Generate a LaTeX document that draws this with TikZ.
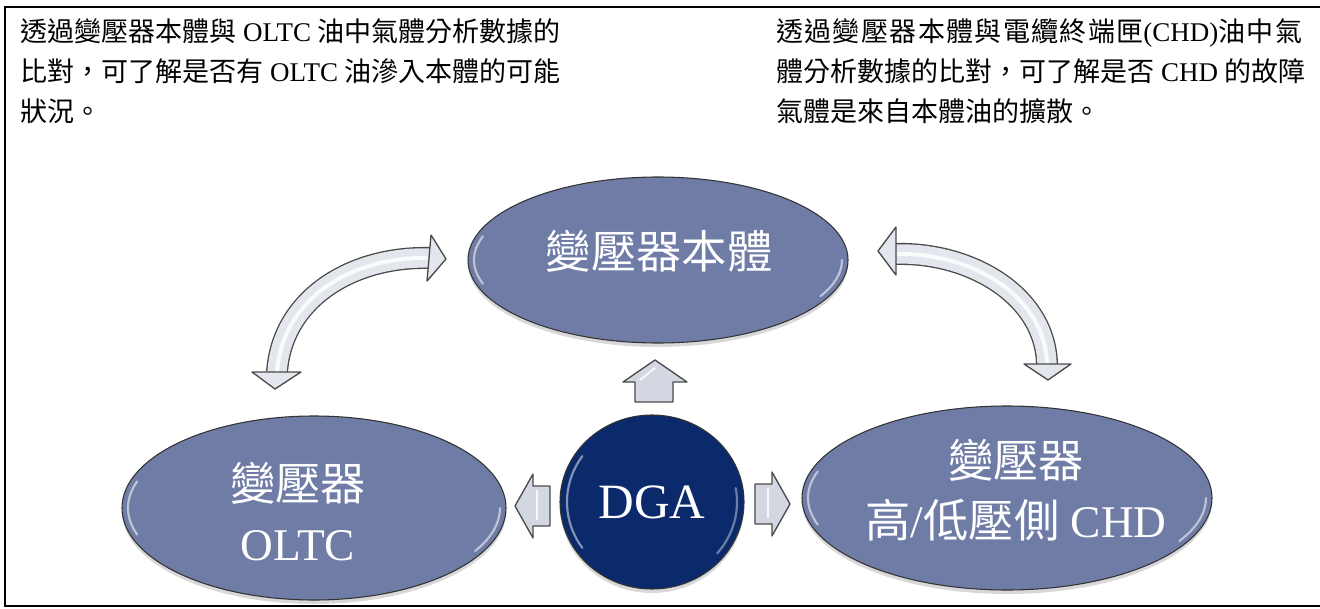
\documentclass[tikz,border=0pt]{standalone}
\usepackage{fontspec}
\setmainfont{Liberation Serif}
\newfontfamily\cjk{Noto Sans CJK TC}
\newfontfamily\cjkwide{Noto Sans CJK TC}[LetterSpace=5]
\usetikzlibrary{shapes.geometric,shadows,calc}
\definecolor{ellfill}{HTML}{6F7CA6}
\definecolor{dgafill}{HTML}{0B2A6C}
\definecolor{arrfill}{HTML}{E4E6EE}
\definecolor{arrline}{HTML}{4A4A4A}
\definecolor{blkfill}{HTML}{D3D7E2}
\begin{document}
\begin{tikzpicture}[x=0.75pt,y=0.75pt,
 oval/.style={ellipse, draw=black!80, line width=0.8pt, fill=ellfill, inner sep=0pt,
   drop shadow={shadow xshift=0pt, shadow yshift=-3pt, opacity=0.3}},
 ovaltext/.style={text=white, align=center, inner sep=0pt, font=\fontsize{34pt}{45pt}\selectfont},
 note/.style={anchor=base west, inner sep=0pt, font=\fontsize{20.25pt}{30pt}\selectfont},
 shine/.style={white, opacity=0.55, line width=1.6pt, line cap=round},
 shaftout/.style={line width=16.5pt, arrline},
 shaftin/.style={line width=14.5pt, arrfill},
 shaftshine/.style={line width=3pt, white, opacity=0.8},
 head/.style={fill=arrfill, draw=arrline, line width=1pt, line join=round},
 blk/.style={fill=blkfill, draw=arrline, line width=1pt, line join=round},
]
\useasboundingbox (0,0) rectangle (1320,608);
\fill[white] (0,0) rectangle (1320,608);
\draw[line width=2pt] (1330,601) -- (5,601) -- (5,2) -- (1330,2);

% notes
\node[note] (l1) at (20,566) {{\cjk 透過變壓器本體與} OLTC {\cjk 油中氣體分析數據的}};
\node[note] (l2) at (20,526) {{\cjk 比對，可了解是否有} OLTC {\cjk 油滲入本體的可能}};
\node[note] (l3) at (20,486) {{\cjk 狀況。}};
\node[note] (r1t) at (776,566) {{\cjkwide 透過變壓器本體與電纜終端匣}(CHD){\cjkwide 油中氣}};
\node[note] (r2t) at (776,526) {{\cjk 體分析數據的比對，可了解是否} CHD {\cjk 的故障}};
\node[note] (r3t) at (776,486) {{\cjk 氣體是來自本體油的擴散。}};

% ellipses
\node[oval, minimum width=285pt, minimum height=124.5pt] (body) at (658,348) {};
\node[oval, minimum width=288pt, minimum height=138pt] (oltc) at (314,100) {};
\node[oval, minimum width=307.5pt, minimum height=138pt] (chd) at (1007,110) {};
\node[ellipse, draw=black!80, line width=0.8pt, fill=dgafill, minimum width=138pt, minimum height=130.5pt,
  drop shadow={shadow xshift=0pt, shadow yshift=-3pt, opacity=0.3}] (dga) at (652,106) {};

% highlights
\draw[shine] ([shift={(162:184 and 77)}]body.center) arc[start angle=162, end angle=198, x radius=184, y radius=77];
\draw[shine] ([shift={(-28:184 and 77)}]body.center) arc[start angle=-28, end angle=0, x radius=184, y radius=77];
\draw[shine] ([shift={(162:186 and 86)}]oltc.center) arc[start angle=162, end angle=198, x radius=186, y radius=86];
\draw[shine] ([shift={(-30:186 and 86)}]oltc.center) arc[start angle=-30, end angle=0, x radius=186, y radius=86];
\draw[shine] ([shift={(162:199 and 86)}]chd.center) arc[start angle=162, end angle=198, x radius=199, y radius=86];
\draw[shine] ([shift={(-30:199 and 86)}]chd.center) arc[start angle=-30, end angle=0, x radius=199, y radius=86];
\draw[shine, opacity=0.5] ([shift={(145:85 and 80)}]dga.center) arc[start angle=145, end angle=215, x radius=85, y radius=80];
\draw[shine, opacity=0.4] ([shift={(-40:85 and 80)}]dga.center) arc[start angle=-40, end angle=10, x radius=85, y radius=80];

% texts
\node[ovaltext] (bodytext) at (659,357) {{\cjk 變壓器本體}};
\node[ovaltext] (oltctext) at (298,96) {{\cjk 變壓器}\\OLTC};
\node[ovaltext] (chdtext) at (1016,118) {{\cjk 變壓器}\\{\cjk 高}/{\cjk 低壓側} CHD};
\node[text=white, inner sep=0pt, font=\fontsize{37pt}{40pt}\selectfont] (dgatext) at (dga.center) {DGA};

% block arrows from DGA
\draw[blk] (635,206) -- (635,226) -- (623,226) -- (655,248) -- (687,226) -- (673,226) -- (673,206) -- cycle;
\draw[blk] (550,122) -- (533,122) -- (533,134) -- (515,102) -- (533,70) -- (533,82) -- (550,82) -- cycle;
\draw[blk] (755,124) -- (772,124) -- (772,136) -- (790,104) -- (772,72) -- (772,84) -- (755,84) -- cycle;
\draw[white, line width=1.5pt, opacity=0.8] (640,228) -- (655,240);
\draw[white, line width=1.5pt, opacity=0.8] (537,118) -- (537,88);
\draw[white, line width=1.5pt, opacity=0.8] (768,120) -- (768,90);

% curved double arrows
\coordinate (la) at (277,236);
\coordinate (lb) at (430,350);
\draw[shaftout] (la) .. controls (282,308) and (350,352) .. (lb);
\draw[shaftin] (la) .. controls (282,308) and (350,352) .. (lb);
\draw[shaftshine] (la) .. controls (282,308) and (350,352) .. (lb);
\draw[head] (252,236) -- (275,219) -- (301,236) -- cycle;
\draw[head] (431,373) -- (446,349) -- (427,327) -- cycle;

\coordinate (ra) at (896,354);
\coordinate (rb) at (1047,244);
\draw[shaftout] (ra) .. controls (970,356) and (1045,313) .. (rb);
\draw[shaftin] (ra) .. controls (970,356) and (1045,313) .. (rb);
\draw[shaftshine] (ra) .. controls (970,356) and (1045,313) .. (rb);
\draw[head] (896,381) -- (878,357) -- (896,333) -- cycle;
\draw[head] (1024,244) -- (1048,228) -- (1071,244) -- cycle;
\end{tikzpicture}
\end{document}
